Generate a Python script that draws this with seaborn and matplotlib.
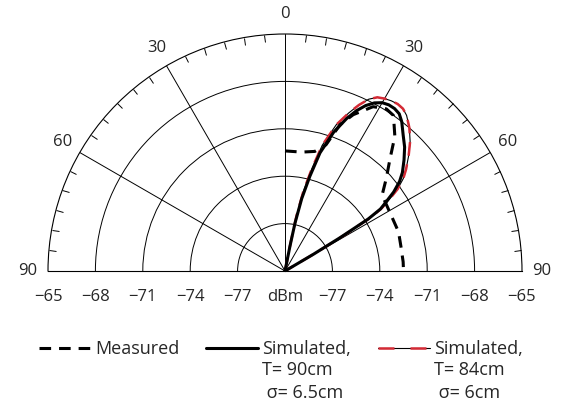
import numpy as np
import matplotlib
matplotlib.use('Agg')
import matplotlib.pyplot as plt
import seaborn as sns
from matplotlib.lines import Line2D
from matplotlib.ticker import MultipleLocator
from matplotlib.legend_handler import HandlerTuple

# angles in degrees (0 = broadside, positive to the right), received power in dBm
theta_meas = [0, 8, 14, 18, 20.6, 23.6, 28.2, 32, 34.9, 39.2, 43.2, 47.5, 52, 61, 71, 78, 85.6, 90]
measured = [-72.4, -72.4, -72.2, -71.6, -70.1, -69.2, -68.2, -67.9, -68.0, -69.0,
            -70.3, -71.3, -72.2, -72.4, -72.4, -72.5, -72.5, -72.5]

theta_sim = [10.5, 11.3, 11.8, 13, 14.7, 16.5, 19.3, 22, 24, 26, 28, 30, 32, 34, 36, 38,
             41, 44, 47, 50, 52, 54, 56, 57, 58, 58.8, 59.5, 60]
sim_90 = [-80, -78.4, -76.9, -75.3, -73.8, -72.2, -70.7, -69.6, -68.9, -68.35, -67.95, -67.7,
          -67.6, -67.6, -67.7, -68.0, -68.6, -69.1, -69.7, -70.3, -70.8, -71.5, -72.4, -72.8,
          -73.8, -75.9, -77.9, -80]
sim_84 = [-80, -78.0, -76.4, -74.8, -73.3, -71.7, -70.2, -69.2, -68.5, -67.9, -67.55, -67.4,
          -67.3, -67.25, -67.3, -67.5, -68.0, -68.6, -69.3, -70.0, -70.5, -71.2, -72.2, -72.7,
          -73.6, -75.6, -77.7, -80]

r_rings = [-77, -74, -71, -68, -65]
r_min = -80
theta_ticks = [-90, -60, -30, 0, 30, 60, 90]
theta_labels = ['90', '60', '30', '0', '30', '60', '90']
legend_labels = ['Measured', 'Simulated,', 'Simulated,']
legend_extra = ['T= 90cm\n σ= 6.5cm', 'T= 84cm\n σ= 6cm']

sns.set_style('white')
plt.rcParams['font.family'] = ['Open Sans', 'DejaVu Sans']
red = '#d42a35'
meas_ls = (0, (3.8, 2.6))

fig = plt.figure(figsize=(5.67, 4.13), dpi=100)
# square box; the half disc sits in its middle (center 285,271 px, radius 237 px)
ax = fig.add_axes([48 / 567, 23.5 / 413, 474 / 567, 474 / 413], projection='polar')
ax.set_theta_zero_location('N')
ax.set_theta_direction(-1)
ax.set_thetamin(-90)
ax.set_thetamax(90)

t_sim = np.deg2rad(theta_sim)
t_meas = np.deg2rad(theta_meas)

# simulated T=84cm: thin black line with red dashes on top
sns.lineplot(x=t_sim, y=sim_84, ax=ax, color='k', lw=0.8, sort=False)
sns.lineplot(x=t_sim, y=sim_84, ax=ax, color=red, lw=1.8, sort=False, ls=(0, (5.5, 3.5)))
sns.lineplot(x=t_sim, y=sim_90, ax=ax, color='k', lw=2.2, sort=False)
sns.lineplot(x=t_meas, y=measured, ax=ax, color='k', lw=2.2, sort=False, ls=meas_ls)

ax.set_rlim(r_min, r_rings[-1])
ax.set_rticks(r_rings[:-1])
ax.set_yticklabels([])
ax.set_thetagrids(theta_ticks, theta_labels, fontsize=12)
ax.grid(True, color='k', lw=0.7)
for sp in ax.spines.values():
    sp.set_color('k')
    sp.set_linewidth(0.8)
# small ticks every 5 degrees on the outer arc
ax.xaxis.set_minor_locator(MultipleLocator(np.deg2rad(5)))
ax.tick_params(axis='x', which='minor', bottom=False, top=True, direction='in',
               length=5, width=0.7, color='k')
ax.tick_params(axis='x', which='major', bottom=False, top=False, pad=4)
ax.set_xlabel('')
ax.set_ylabel('')

# radial labels under the baseline
for side in (-90, 90):
    for r in r_rings:
        ax.annotate('\u2212%d' % -r, xy=(np.deg2rad(side), r), xytext=(0, -13),
                    textcoords='offset points', ha='center', va='top', fontsize=12)
ax.annotate('dBm', xy=(0, r_min), xytext=(0, -13), textcoords='offset points',
            ha='center', va='top', fontsize=12)

h_meas = Line2D([], [], color='k', lw=2.2, ls=meas_ls)
h_90 = Line2D([], [], color='k', lw=2.2)
h_84k = Line2D([], [], color='k', lw=0.8)
h_84r = Line2D([], [], color=red, lw=1.8, ls=(0, (6.4, 6.4)))
leg = fig.legend(handles=[h_meas, h_90, (h_84k, h_84r)], labels=legend_labels,
                 handler_map={tuple: HandlerTuple(ndivide=1)},
                 ncol=3, frameon=False, loc='upper left', bbox_to_anchor=(39 / 567, 1 - 340 / 413),
                 handlelength=2.85, handletextpad=0.25, columnspacing=1.5, fontsize=13,
                 borderaxespad=0, borderpad=0)
fig.canvas.draw()
inv = fig.transFigure.inverted()
for txt, extra in zip(leg.get_texts()[1:], legend_extra):
    bb = txt.get_window_extent()
    x0, y0 = inv.transform((bb.x0, bb.y0))
    fig.text(x0, y0 - 3 / 413, extra, ha='left', va='top', fontsize=13, linespacing=1.35)

fig.savefig('out.png', dpi=100)
